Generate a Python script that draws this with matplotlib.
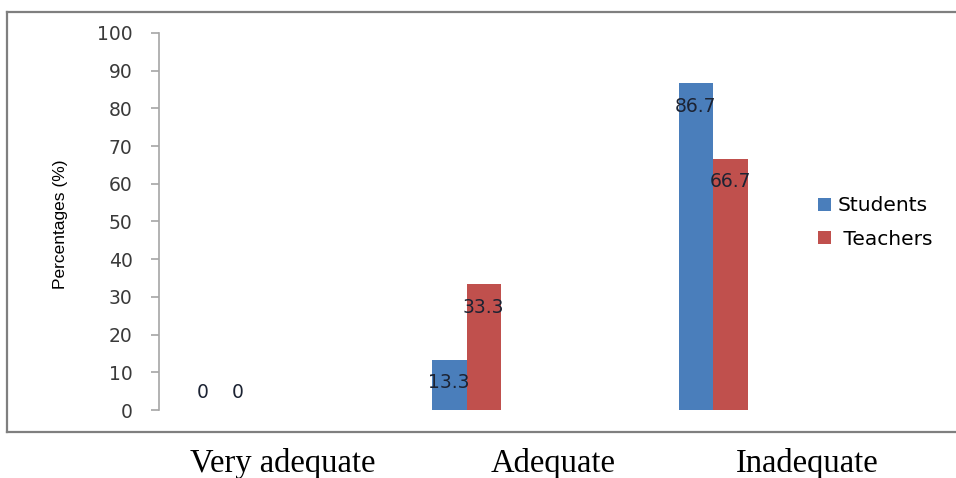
import matplotlib
matplotlib.use("Agg")
import matplotlib.pyplot as plt
from matplotlib.lines import Line2D
import numpy as np

categories = ["Very adequate", "Adequate", "Inadequate"]
students = [0, 13.3, 86.7]
teachers = [0, 33.3, 66.7]
series_names = ["Students", "Teachers"]
colors = ["#4A7EBB", "#C0504D"]
yticks = list(range(0, 101, 10))

W, H = 956, 478
fig = plt.figure(figsize=(W / 100, H / 100), dpi=100)

# outer frame (open on the right)
fx = lambda px: px / W
fy = lambda py: (H - py) / H
frame_kw = dict(transform=fig.transFigure, color="#7F7F7F", linewidth=1.6)
fig.lines.append(Line2D([fx(7), fx(W)], [fy(12), fy(12)], **frame_kw))
fig.lines.append(Line2D([fx(7), fx(W)], [fy(432), fy(432)], **frame_kw))
fig.lines.append(Line2D([fx(7), fx(7)], [fy(12), fy(432)], **frame_kw))

c0, step = 220, 246.5
x_left, x_right = 159, 800
ax = fig.add_axes([fx(x_left), fy(410), (x_right - x_left) / W, (410 - 33) / H])
x = np.arange(len(categories))
bw = 34.5 / step
b1 = ax.bar(x - bw / 2, students, bw, color=colors[0], label=series_names[0])
b2 = ax.bar(x + bw / 2, teachers, bw, color=colors[1], label=" " + series_names[1])

for bars, vals in ((b1, students), (b2, teachers)):
    for rect, v in zip(bars, vals):
        off = 18 if v == 0 else -23
        ax.annotate(f"{v:g}", (rect.get_x() + rect.get_width() / 2, v),
                    xytext=(0, off), textcoords="offset pixels",
                    ha="center", va="center", fontsize=13.5, color="#1C2333")

ax.set_xlim((x_left - c0) / step, (x_right - c0) / step)
ax.set_ylim(0, 100)
ax.set_yticks(yticks)
ax.set_xticks([])
for s in ("top", "right", "bottom"):
    ax.spines[s].set_visible(False)
ax.spines["left"].set_color("#A6A6A6")
ax.spines["left"].set_linewidth(1.2)
ax.tick_params(axis="y", length=6, width=1.2, color="#A6A6A6", labelsize=13.5,
               labelcolor="#3A3A3A", pad=13)
ax.set_facecolor("none")

fig.text(fx(61), fy(224), "Percentages (%)", rotation=90, ha="center",
         va="center", fontsize=12.5, family="Liberation Sans", color="black")

label_x = [283, 553, 807]
for lx, c in zip(label_x, categories):
    fig.text(fx(lx), fy(472), c, ha="center", va="baseline",
             fontsize=23.5, family="Liberation Serif", color="black")

leg = ax.legend(loc="center left", bbox_to_anchor=(fx(818), fy(222.5)),
                bbox_transform=fig.transFigure, frameon=False, fontsize=14.5,
                handlelength=0.65, handleheight=0.65, handletextpad=0.3,
                labelspacing=0.7, borderpad=0, borderaxespad=0)

fig.savefig("out.png", dpi=100)
